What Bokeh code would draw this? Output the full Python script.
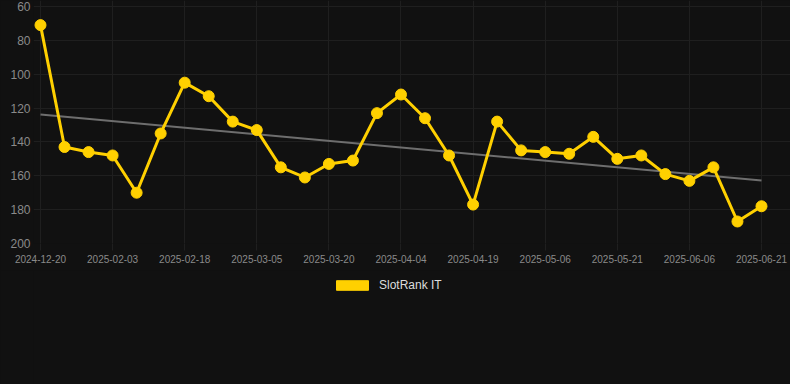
import numpy as np
from bokeh.plotting import figure
from bokeh.layouts import column
from bokeh.models import Range1d, FixedTicker, Legend, LegendItem, ColumnDataSource
from bokeh.embed import file_html
from bokeh.resources import INLINE

dates = ["2024-12-20", "2025-01-24", "2025-01-29", "2025-02-03", "2025-02-08", "2025-02-13",
         "2025-02-18", "2025-02-23", "2025-02-28", "2025-03-05", "2025-03-10", "2025-03-15",
         "2025-03-20", "2025-03-25", "2025-03-30", "2025-04-04", "2025-04-09", "2025-04-14",
         "2025-04-19", "2025-04-25", "2025-04-30", "2025-05-06", "2025-05-11", "2025-05-16",
         "2025-05-21", "2025-05-26", "2025-05-31", "2025-06-06", "2025-06-11", "2025-06-16",
         "2025-06-21"]
ranks = [71, 143, 146, 148, 170, 135, 105, 113, 128, 133, 155, 161, 153, 151, 123, 112,
         126, 148, 177, 128, 145, 146, 147, 137, 150, 148, 159, 163, 155, 187, 178]
y_ticks = [60, 80, 100, 120, 140, 160, 180, 200]
series_name = "SlotRank IT"

idx = list(range(len(dates)))
tick_idx = idx[::3]

coef = np.polyfit(idx, ranks, 1)
trend_x = [idx[0], idx[-1]]
trend_y = [float(np.polyval(coef, v)) for v in trend_x]

BG = "#111111"
GRID = "#1f1f1f"
GOLD = "#FFD000"

p = figure(width=790, height=270, output_backend="svg", toolbar_location=None,
           x_range=Range1d(-0.291, 31.207), y_range=Range1d(200, 56.46),
           min_border_left=33, min_border_right=0, min_border_top=0, min_border_bottom=27)
p.background_fill_color = BG
p.border_fill_color = BG
p.outline_line_color = None

p.xgrid.ticker = FixedTicker(ticks=tick_idx)
p.ygrid.ticker = FixedTicker(ticks=y_ticks)
p.xgrid.grid_line_color = GRID
p.ygrid.grid_line_color = GRID

p.xaxis.ticker = FixedTicker(ticks=tick_idx)
p.xaxis.major_label_overrides = {i: dates[i] for i in tick_idx}
p.xaxis.axis_line_color = None
p.xaxis.major_tick_line_color = GRID
p.xaxis.major_tick_out = 7
p.xaxis.major_tick_in = 0
p.xaxis.minor_tick_line_color = None
p.xaxis.major_label_text_color = "#8a8a8a"
p.xaxis.major_label_text_font = "Liberation Sans"
p.xaxis.major_label_text_font_size = "10px"
p.xaxis.major_label_standoff = 4

p.yaxis.ticker = FixedTicker(ticks=y_ticks)
p.yaxis.axis_line_color = None
p.yaxis.major_tick_line_color = None
p.yaxis.major_tick_out = 0
p.yaxis.major_tick_in = 0
p.yaxis.minor_tick_line_color = None
p.yaxis.major_label_text_color = "#8a8a8a"
p.yaxis.major_label_text_font = "Liberation Sans"
p.yaxis.major_label_text_font_size = "12px"
p.yaxis.major_label_standoff = 3

p.line(trend_x, trend_y, line_color="#6e6e6e", line_width=2)

src = ColumnDataSource(dict(x=idx, y=ranks))
p.line("x", "y", source=src, line_color=GOLD, line_width=3)
p.scatter("x", "y", source=src, size=11, fill_color=GOLD, line_color=GOLD)

lf = figure(width=790, height=114, output_backend="svg", toolbar_location=None,
            x_range=Range1d(0, 1), y_range=Range1d(0, 1),
            min_border_left=0, min_border_right=0, min_border_top=0, min_border_bottom=0)
lf.axis.visible = False
lf.grid.visible = False
lf.background_fill_color = BG
lf.border_fill_color = BG
lf.outline_line_color = None

# legend swatch source placed outside the visible range
dummy = lf.quad(left=[5], right=[6], top=[6], bottom=[5], fill_color=GOLD, line_color=GOLD)
legend = Legend(items=[LegendItem(label=series_name, renderers=[dummy])],
                location=(299, 92), orientation="horizontal",
                glyph_width=40, glyph_height=12, label_standoff=7,
                padding=0, margin=0, spacing=0,
                background_fill_alpha=0, border_line_color=None,
                label_text_color="#dddddd", label_text_font="Liberation Sans",
                label_text_font_size="12px")
lf.add_layout(legend, "center")

layout = column(p, lf, spacing=0, styles={"background-color": BG})
open("out.html", "w").write(file_html(layout, INLINE))
